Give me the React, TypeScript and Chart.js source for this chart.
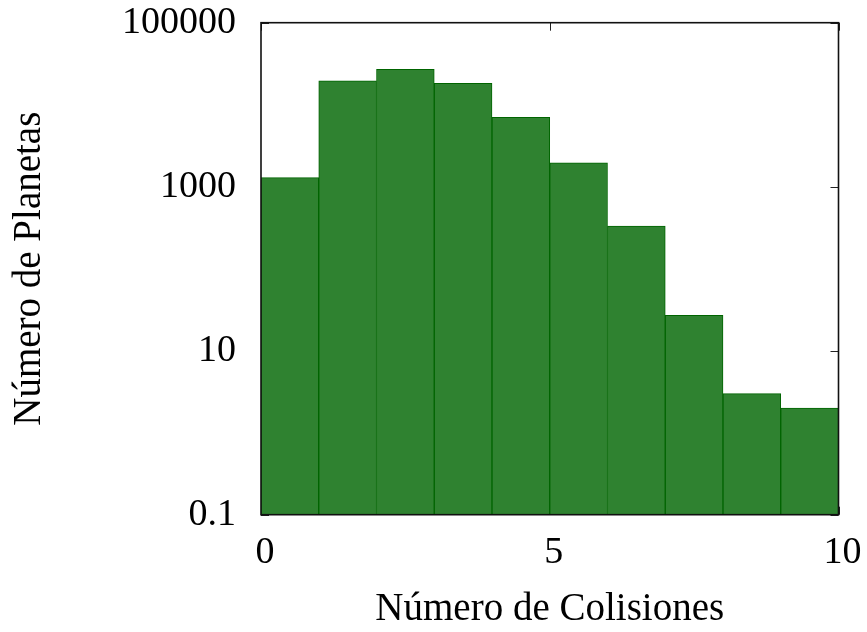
import React, { useEffect, useRef } from "react";
import { Chart, registerables } from "chart.js";

Chart.register(...registerables);

// Histogram: number of planets per number of collisions (bins of width 1)
const binStarts = [0, 1, 2, 3, 4, 5, 6, 7, 8, 9];
const planetCounts = [1290, 19600, 27000, 18200, 7000, 1960, 330, 27, 3, 2];

const yTickValues = [0.1, 10, 1000, 100000];
const yTickLabels = ["0.1", "10", "1000", "100000"];
const xTickValues = [0, 5, 10];
const xTickLabels = ["0", "5", "10"];

const FONT = '"Liberation Serif", "Times New Roman", Times, serif';

const frameAndTicks = {
  id: "frameAndTicks",
  beforeDatasetsDraw(chart: any) {
    const { ctx, chartArea: a, scales } = chart;
    const len = 8;
    ctx.save();
    ctx.strokeStyle = "#222";
    ctx.lineWidth = 1;
    ctx.beginPath();
    for (const v of yTickValues) {
      const y = Math.round(scales.y.getPixelForValue(v)) + 0.5;
      ctx.moveTo(a.left, y);
      ctx.lineTo(a.left + len, y);
      ctx.moveTo(a.right, y);
      ctx.lineTo(a.right - len, y);
    }
    for (const v of xTickValues) {
      const x = Math.round(scales.x.getPixelForValue(v)) + 0.5;
      ctx.moveTo(x, a.bottom);
      ctx.lineTo(x, a.bottom - len);
      ctx.moveTo(x, a.top);
      ctx.lineTo(x, a.top + len);
    }
    ctx.stroke();
    ctx.restore();
  },
  afterDatasetsDraw(chart: any) {
    const { ctx, chartArea: a } = chart;
    ctx.save();
    ctx.strokeStyle = "#111";
    ctx.lineWidth = 1.6;
    ctx.strokeRect(a.left, a.top, a.right - a.left, a.bottom - a.top);
    ctx.restore();
  },
};

export default function App() {
  const canvasRef = useRef<HTMLCanvasElement | null>(null);

  useEffect(() => {
    const canvas = canvasRef.current;
    if (!canvas) return;
    const chart = new Chart(canvas, {
      type: "bar",
      data: {
        datasets: [
          {
            data: binStarts.map((b, i) => ({ x: b + 0.5, y: planetCounts[i] })),
            backgroundColor: "rgb(47,130,48)",
            borderColor: "rgb(0,100,0)",
            borderWidth: 1,
            barPercentage: 1,
            categoryPercentage: 1,
          },
        ],
      },
      options: {
        responsive: false,
        animation: false,
        devicePixelRatio: 1,
        layout: { padding: { left: 0, top: 22.7, right: 28.5, bottom: 0 } },
        plugins: {
          legend: { display: false },
          tooltip: { enabled: false },
        },
        scales: {
          x: {
            type: "linear",
            min: 0,
            max: 10,
            offset: false,
            grid: { display: false, drawTicks: false, offset: false },
            border: { display: false },
            afterBuildTicks(scale: any) {
              scale.ticks = xTickValues.map((v) => ({ value: v }));
            },
            afterFit(scale: any) {
              scale.height = 117.3;
              scale.paddingLeft = 0;
              scale.paddingRight = 0;
            },
            ticks: {
              padding: 16,
              labelOffset: 4,
              maxRotation: 0,
              color: "#000",
              font: { family: FONT, size: 38 },
              callback: (v: any) => {
                const i = xTickValues.indexOf(Number(v));
                return i >= 0 ? xTickLabels[i] : "";
              },
            },
            title: {
              display: true,
              text: "Número de Colisiones",
              color: "#000",
              font: { family: FONT, size: 39 },
              padding: { top: 0, bottom: -1 },
            },
          },
          y: {
            type: "logarithmic",
            min: 0.1,
            max: 100000,
            grid: { display: false, drawTicks: false },
            border: { display: false },
            afterBuildTicks(scale: any) {
              scale.ticks = yTickValues.map((v) => ({ value: v }));
            },
            afterFit(scale: any) {
              scale.width = 261;
              scale.paddingTop = 0;
              scale.paddingBottom = 0;
            },
            ticks: {
              padding: 25,
              color: "#000",
              font: { family: FONT, size: 38 },
              callback: (v: any) => {
                const i = yTickValues.indexOf(Number(v));
                return i >= 0 ? yTickLabels[i] : "";
              },
            },
            title: {
              display: true,
              text: "Número de Planetas",
              color: "#000",
              font: { family: FONT, size: 39 },
              padding: { top: 6, bottom: 0 },
            },
          },
        },
      },
      plugins: [frameAndTicks],
    });
    return () => chart.destroy();
  }, []);

  return (
    <div style={{ position: "fixed", left: 0, top: 0, width: 867, height: 632, background: "#fff" }}>
      <canvas ref={canvasRef} width={867} height={632} />
    </div>
  );
}
